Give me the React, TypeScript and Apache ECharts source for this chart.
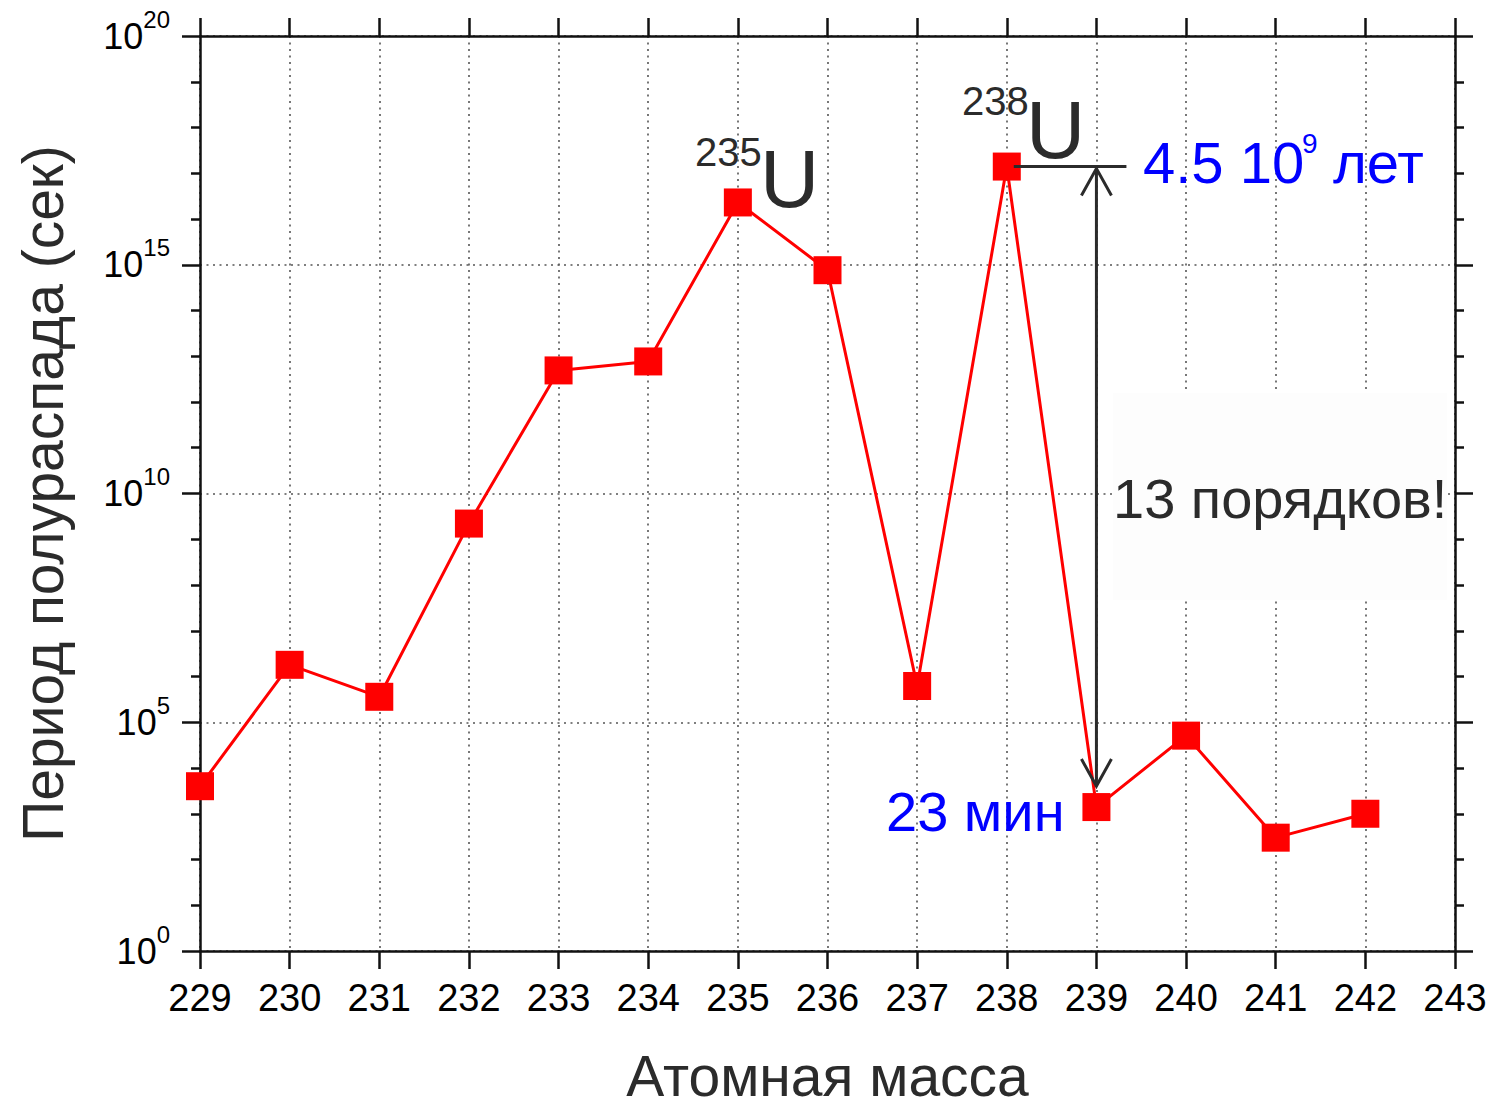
import React, { useEffect, useRef } from "react";
import * as echarts from "echarts";

// Atomic mass numbers of uranium isotopes
const massNumbers: number[] = [229, 230, 231, 232, 233, 234, 235, 236, 237, 238, 239, 240, 241, 242];
// Half-lives in seconds
const halfLifeSeconds: number[] = [4.0e3, 1.8e6, 3.6e5, 2.2e9, 4.9e12, 7.7e12, 2.3e16, 7.6e14, 6.2e5, 1.4e17, 1.4e3, 5.1e4, 3.0e2, 1.0e3];
// Axis ranges / tick labels
const xMin = 229;
const xMax = 243;
const yExpMin = 0;
const yExpMax = 20;
const yExpStep = 5;

const FONT = '"Liberation Sans", Arial, Helvetica, sans-serif';
const AXIS_COLOR = "#111";
const TEXT_DARK = "#2b2b2b";
const BLUE = "#0000ff";

export default function App() {
  const ref = useRef<HTMLDivElement>(null);

  useEffect(() => {
    if (!ref.current) return;
    const chart = echarts.init(ref.current, null, { renderer: "svg" });

    const seriesData = massNumbers.map((m, i) => [m, Math.log10(halfLifeSeconds[i])]);

    const axisLine = { show: true, onZero: false, lineStyle: { color: AXIS_COLOR, width: 2.5 } };
    const tickStyle = { color: AXIS_COLOR, width: 2.5 };

    const option: any = {
      animation: false,
      backgroundColor: "#fff",
      grid: { left: 200, top: 36, width: 1255, height: 922, containLabel: false },
      xAxis: [
        {
          type: "value",
          position: "bottom",
          min: xMin,
          max: xMax,
          interval: 1,
          name: "Атомная масса",
          nameLocation: "middle",
          nameGap: 96,
          nameTextStyle: { fontSize: 57, color: TEXT_DARK, fontFamily: FONT },
          axisLine,
          axisTick: { show: true, inside: false, length: 18, lineStyle: tickStyle },
          axisLabel: { show: true, margin: 28, fontSize: 38, color: "#000", fontFamily: FONT },
          splitLine: { show: true, lineStyle: { color: "#555", width: 1.6, type: [2, 4.5] } },
        },
        {
          type: "value",
          position: "top",
          min: xMin,
          max: xMax,
          interval: 1,
          axisLine,
          axisTick: { show: true, inside: false, length: 18, lineStyle: tickStyle },
          axisLabel: { show: false },
          splitLine: { show: false },
        },
      ],
      yAxis: [
        {
          type: "value",
          position: "left",
          min: yExpMin,
          max: yExpMax,
          interval: yExpStep,
          name: "Период полураспада (сек)",
          nameLocation: "middle",
          nameGap: 129,
          nameTextStyle: { fontSize: 57, color: TEXT_DARK, fontFamily: FONT },
          axisLine,
          axisTick: { show: true, inside: false, length: 18, lineStyle: tickStyle },
          minorTick: { show: true, splitNumber: 5, length: 9, lineStyle: tickStyle },
          axisLabel: {
            show: true,
            margin: 30,
            formatter: (v: number) => `{b|10}{s|${v}}`,
            rich: {
              b: { fontSize: 36, color: "#000", fontFamily: FONT },
              s: { fontSize: 24, color: "#000", fontFamily: FONT, padding: [0, 0, 34, 0] },
            },
          },
          splitLine: { show: true, lineStyle: { color: "#555", width: 1.6, type: [2, 4.5] } },
          minorSplitLine: { show: false },
        },
        {
          type: "value",
          position: "right",
          min: yExpMin,
          max: yExpMax,
          interval: yExpStep,
          axisLine,
          axisTick: { show: true, inside: false, length: 18, lineStyle: tickStyle },
          minorTick: { show: true, splitNumber: 5, length: 9, lineStyle: tickStyle },
          axisLabel: { show: false },
          splitLine: { show: false },
        },
      ],
      series: [
        {
          type: "line",
          xAxisIndex: 0,
          yAxisIndex: 0,
          data: seriesData,
          symbol: "rect",
          symbolSize: 28,
          lineStyle: { color: "#ff0000", width: 3 },
          itemStyle: { color: "#ff0000" },
          z: 3,
        },
      ],
    };

    chart.setOption(option);

    const px = (mass: number, seconds: number) =>
      chart.convertToPixel({ xAxisIndex: 0, yAxisIndex: 0 }, [mass, Math.log10(seconds)]) as number[];

    const i238 = massNumbers.indexOf(238);
    const i239 = massNumbers.indexOf(239);
    const p238 = px(238, halfLifeSeconds[i238]);
    const p239 = px(239, halfLifeSeconds[i239]);
    const arrowX = p239[0];
    const topTip = p238[1] + 2;
    const botTip = p239[1] - 21;
    const lineStyle = { stroke: TEXT_DARK, lineWidth: 3, fill: "none" };

    const txt = (x: number, y: number, text: string, size: number, fill: string, z = 20) => ({
      type: "text",
      z,
      style: { x, y, text, fontSize: size, fontFamily: FONT, fill, align: "left", verticalAlign: "middle" },
    });

    chart.setOption({
      graphic: [
        // white box behind "13 порядков!"
        { type: "rect", z: 10, shape: { x: 1113, y: 393, width: 334, height: 207 }, style: { fill: "#fdfdfd" } },
        // horizontal reference line at U-238
        { type: "line", z: 15, shape: { x1: p238[0] + 7, y1: p238[1], x2: arrowX + 30, y2: p238[1] }, style: lineStyle },
        // vertical double arrow
        { type: "line", z: 15, shape: { x1: arrowX, y1: topTip, x2: arrowX, y2: botTip }, style: lineStyle },
        { type: "polyline", z: 15, shape: { points: [[arrowX - 15, topTip + 27], [arrowX, topTip], [arrowX + 15, topTip + 27]] }, style: lineStyle },
        { type: "polyline", z: 15, shape: { points: [[arrowX - 15, botTip - 27], [arrowX, botTip], [arrowX + 15, botTip - 27]] }, style: lineStyle },
        // isotope labels
        txt(695, 152, "235", 40, TEXT_DARK),
        txt(760, 178, "U", 82, TEXT_DARK),
        txt(962, 101, "238", 40, TEXT_DARK),
        txt(1026, 129, "U", 82, TEXT_DARK),
        // 4.5 10^9 лет
        txt(1143, 162, "4.5 10", 58, BLUE),
        txt(1302, 143, "9", 28, BLUE),
        txt(1333, 162, "лет", 58, BLUE),
        // 23 мин
        txt(886, 811, "23 мин", 56, BLUE),
        // 13 порядков!
        txt(1113, 498, "13 порядков!", 56, TEXT_DARK),
      ],
    });

    return () => chart.dispose();
  }, []);

  return (
    <div
      ref={ref}
      style={{ position: "fixed", left: 0, top: 0, width: 1491, height: 1109, background: "#fff" }}
    />
  );
}
